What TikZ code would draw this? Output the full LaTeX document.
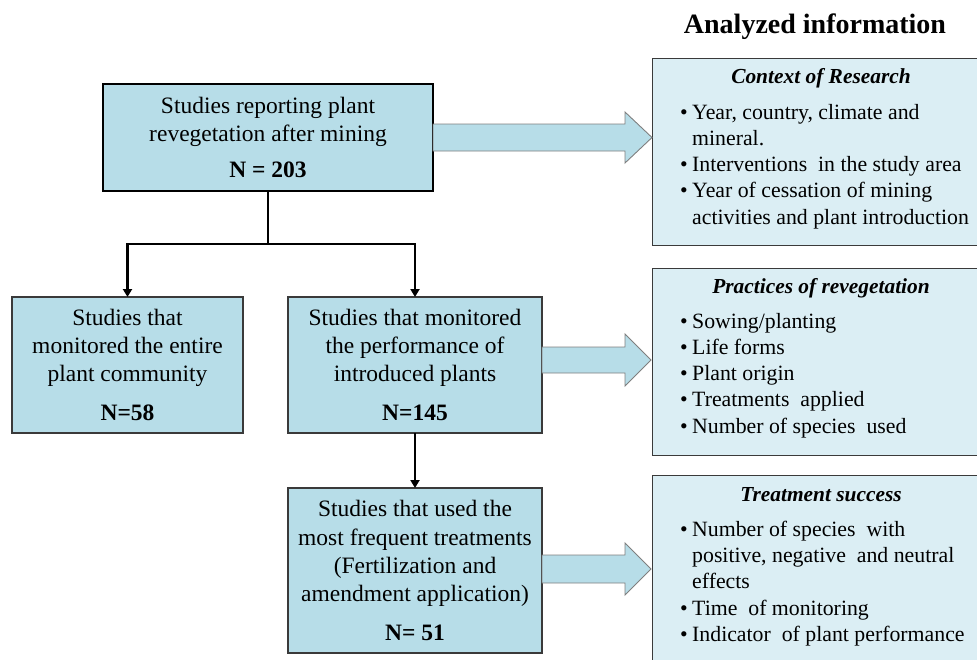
\documentclass[tikz,border=0pt]{standalone}
\usepackage{fontspec}
\setmainfont{Liberation Serif}
\usetikzlibrary{arrows.meta,calc}
\definecolor{boxblue}{HTML}{B7DDE8}
\definecolor{paleblue}{HTML}{DBEEF4}
\definecolor{edgegray}{HTML}{3A3A3A}
\definecolor{arrgray}{HTML}{7F7F7F}
\newcommand{\bitem}[1]{\makebox[12pt][l]{\textbullet}#1}
\newcommand{\bcont}[1]{\makebox[12pt][l]{}#1}
\begin{document}
\begin{tikzpicture}[x=1pt,y=-1pt,
  mainbox/.style={draw=edgegray, line width=1.1pt, fill=boxblue, inner sep=0pt, outer sep=0pt,
    anchor=north west, align=center, font=\fontsize{23.5}{28.3}\selectfont},
  infobox/.style={draw=edgegray, line width=0.9pt, fill=paleblue, inner sep=0pt, outer sep=0pt, anchor=north west},
  infotitle/.style={font=\fontsize{21.4}{25}\selectfont\bfseries\itshape, inner sep=0pt},
  infolist/.style={font=\fontsize{21.8}{26.2}\selectfont, align=left, anchor=north west, inner sep=0pt},
  conn/.style={line width=2.4pt, -{Triangle[length=8pt,width=9pt]}},
  blockarrow/.style={draw=arrgray, line width=0.9pt, fill=boxblue, line join=miter}]
\useasboundingbox (0,0) rectangle (977,659);
\clip (0,0) rectangle (977,659);

% title
\node[font=\fontsize{28}{32}\selectfont\bfseries, inner sep=0pt] (head) at (815,27) {Analyzed information};

% main boxes
\node[mainbox, line width=2.8pt, draw=black, minimum width=330, minimum height=107] (top) at (103,84)
  {Studies reporting plant\\ revegetation after mining\\[8pt] \textbf{N = 203}};
\node[mainbox, minimum width=231, minimum height=136] (left) at (12,297)
  {Studies that\\ monitored the entire\\ plant community\\[11pt] \textbf{N=58}};
\node[mainbox, minimum width=254, minimum height=136] (mid) at (288,297)
  {Studies that monitored\\ the performance of\\ introduced plants\\[11pt] \textbf{N=145}};
\node[mainbox, minimum width=254, minimum height=165] (bot) at (288,488)
  {Studies that used the\\ most frequent treatments\\ (Fertilization and\\ amendment application)\\[10pt] \textbf{N= 51}};

% info boxes
\node[infobox, minimum width=338, minimum height=187] (ctx) at (652,58) {};
\node[infobox, minimum width=338, minimum height=187] (prac) at (652,268) {};
\node[infobox, minimum width=338, minimum height=210] (succ) at (652,475) {};

\node[infotitle] (ctxt) at ($(ctx.north)+(0,20)$) {Context of Research};
\node[infolist] (ctxl) at ($(ctx.north west)+(28,46)$)
  {\bitem{Year, country, climate and}\\ \bcont{mineral.}\\ \bitem{Interventions \ in the study area}\\
   \bitem{Year of cessation of mining}\\ \bcont{activities and plant introduction}};

\node[infotitle] (pract) at ($(prac.north)+(0,20)$) {Practices of revegetation};
\node[infolist] (pracl) at ($(prac.north west)+(28,45)$)
  {\bitem{Sowing/planting}\\ \bitem{Life forms}\\ \bitem{Plant origin}\\
   \bitem{Treatments \ applied}\\ \bitem{Number of species \ used}};

\node[infotitle] (succt) at ($(succ.north)+(0,20)$) {Treatment success};
\node[infolist] (succl) at ($(succ.north west)+(28,46)$)
  {\bitem{Number of species \ with}\\ \bcont{positive, negative \ and neutral}\\ \bcont{effects}\\
   \bitem{Time \ of monitoring}\\ \bitem{Indicator \ of plant performance}};

% connectors
\coordinate (split) at ($(top.south)+(0,53)$);
\draw[line width=2.4pt] (top.south) -- (split);
\draw[conn] (split) -| (left.north);
\draw[conn] (split) -| (mid.north);
\draw[conn] (mid.south) -- (bot.north);

% block arrows
\draw[blockarrow] ($(top.east)+(0,13.5)$) -- ++(192,0) -- ++(0,12) -- ++(27,-25.5) -- ++(-27,-25.5) -- ++(0,12) -- ++(-192,0) -- cycle;
\draw[blockarrow] ($(mid.east)+(0,8)$) -- ++(83,0) -- ++(0,13) -- ++(26,-26) -- ++(-26,-26) -- ++(0,13) -- ++(-83,0) -- cycle;
\draw[blockarrow] ($(bot.east)+(0,12.5)$) -- ++(83,0) -- ++(0,12) -- ++(26,-26) -- ++(-26,-26) -- ++(0,12) -- ++(-83,0) -- cycle;
\end{tikzpicture}
\end{document}
